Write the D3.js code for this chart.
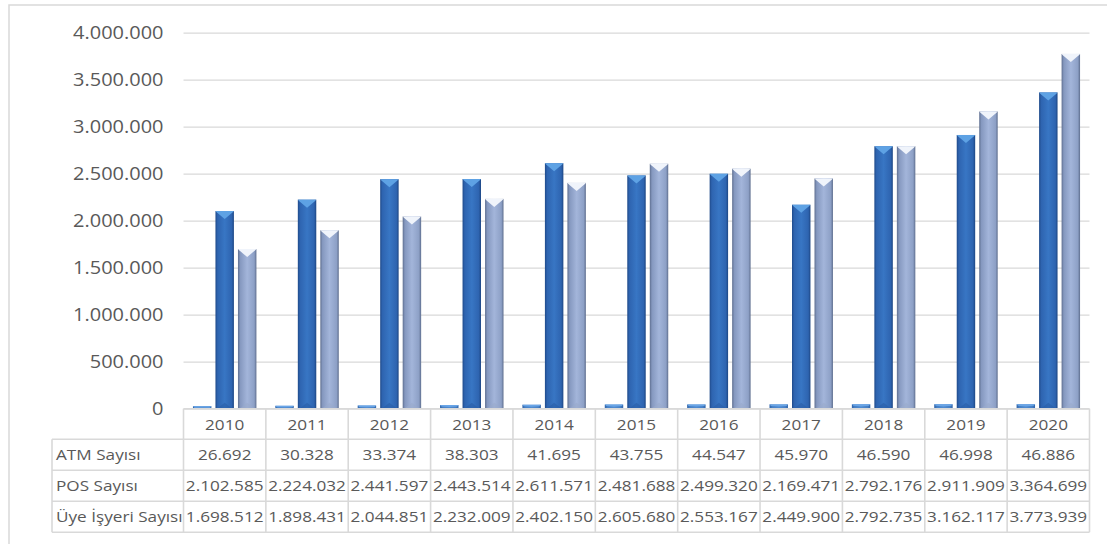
<!DOCTYPE html>
<html>
<head>
<meta charset="utf-8">
<script src="https://cdn.jsdelivr.net/npm/d3@7/dist/d3.min.js"></script>
<style>
  html, body { margin: 0; padding: 0; background: #fff; }
  svg { display: block; }
  text { font-family: "Open Sans", "Noto Sans", sans-serif; fill: #595959; }
</style>
</head>
<body>
<svg id="chart" width="1107" height="544"></svg>
<script>
// Yearly counts of ATMs, POS terminals and member merchants
const years = ["2010","2011","2012","2013","2014","2015","2016","2017","2018","2019","2020"];
const atmCounts = [26692, 30328, 33374, 38303, 41695, 43755, 44547, 45970, 46590, 46998, 46886];
const posCounts = [2102585, 2224032, 2441597, 2443514, 2611571, 2481688, 2499320, 2169471, 2792176, 2911909, 3364699];
const merchantCounts = [1698512, 1898431, 2044851, 2232009, 2402150, 2605680, 2553167, 2449900, 2792735, 3162117, 3773939];
const seriesNames = ["ATM Sayısı", "POS Sayısı", "Üye İşyeri Sayısı"];
const yTicks = [0, 500000, 1000000, 1500000, 2000000, 2500000, 3000000, 3500000, 4000000];

const series = [atmCounts, posCounts, merchantCounts];

const trLocale = d3.formatLocale({ decimal: ",", thousands: ".", grouping: [3], currency: ["", " ₺"] });
const fmt = trLocale.format(",d");

const svg = d3.select("#chart");
const W = 1107, H = 544;

const plot = { left: 183.5, right: 1089.5, top: 32.7, bottom: 408.7 };
const rowH = 31;
const headerBottom = plot.bottom + 30.5;
const labelLeft = 52;

// Outer frame (open at right and bottom)
svg.append("path")
  .attr("d", `M9,${H} L9,5 L${W},5`)
  .attr("fill", "none")
  .attr("stroke", "#d9d9d9")
  .attr("stroke-width", 1.5);

// Scales
const x = d3.scaleBand().domain(years).range([plot.left, plot.right]).paddingInner(0).paddingOuter(0);
const xs = d3.scaleBand().domain(d3.range(series.length)).range([0, x.bandwidth()])
  .paddingInner(0.18).paddingOuter(0.42);
const y = d3.scaleLinear().domain([0, 4000000]).range([plot.bottom, plot.top]);

// Gradients for bevelled bars
const defs = svg.append("defs");
function hGrad(id, stops) {
  const g = defs.append("linearGradient").attr("id", id).attr("x1", "0").attr("x2", "1").attr("y1", "0").attr("y2", "0");
  stops.forEach(([o, c]) => g.append("stop").attr("offset", o).attr("stop-color", c));
}
hGrad("gAtm", [[0, "#2f63a8"], [0.15, "#4680c6"], [0.5, "#4f8bd1"], [0.85, "#4680c6"], [1, "#2f63a8"]]);
hGrad("gPos", [[0, "#1f4a8a"], [0.12, "#2e64b0"], [0.5, "#3876c4"], [0.88, "#2e64b0"], [1, "#1d4683"]]);
hGrad("gMer", [[0, "#5f6f90"], [0.12, "#8598bf"], [0.5, "#a3b5da"], [0.88, "#8da0c6"], [1, "#5e6e8e"]]);
const fills = ["url(#gAtm)", "url(#gPos)", "url(#gMer)"];
const bevelTop = ["#6aa5e6", "#5ea2e4", "#f0f4fb"];
const bevelBottom = ["#3a6fb5", "#2a5ea6", "#9aaacb"];

// Y axis with gridlines
const yPad = 20;
const yAxis = d3.axisLeft(y).tickValues(yTicks).tickFormat(fmt)
  .tickSize(-(plot.right - plot.left)).tickPadding(yPad);
const gy = svg.append("g").attr("transform", `translate(${plot.left},0)`).call(yAxis);
gy.select(".domain").remove();
gy.selectAll(".tick line").attr("stroke", "#d9d9d9").attr("stroke-width", 1.3);
gy.selectAll(".tick text")
  .attr("x", 0)
  .attr("transform", `translate(${-yPad},0) scale(1.08,1)`)
  .attr("font-size", 18.5)
  .attr("fill", "#595959")
  .style("font-family", "'Open Sans', sans-serif");

// Bars
const barsG = svg.append("g");
series.forEach((vals, si) => {
  const g = barsG.append("g");
  vals.forEach((v, i) => {
    const x0 = x(years[i]) + xs(si);
    const w = xs.bandwidth();
    const yTop = y(v);
    const h = plot.bottom - yTop;
    g.append("rect")
      .attr("x", x0).attr("y", yTop).attr("width", w).attr("height", h)
      .attr("fill", fills[si]);
    const d = Math.min(8, h / 2);
    // top bevel: downward chevron
    g.append("path")
      .attr("d", `M${x0},${yTop} L${x0 + w},${yTop} L${x0 + w - 1.5},${yTop + 1.5} L${x0 + w / 2},${yTop + d} L${x0 + 1.5},${yTop + 1.5} Z`)
      .attr("fill", bevelTop[si]);
    // bottom bevel: faint upward chevron
    if (h > 20) {
      g.append("path")
        .attr("d", `M${x0 + 1.5},${plot.bottom} L${x0 + w / 2},${plot.bottom - 6} L${x0 + w - 1.5},${plot.bottom} Z`)
        .attr("fill", bevelBottom[si]).attr("opacity", 0.6);
    }
  });
});

// Data table below the plot
const tbl = svg.append("g");
const lineCol = "#d9d9d9";
const rowsTop = headerBottom;
const tableBottom = rowsTop + rowH * 3;

// horizontal lines
tbl.append("line").attr("x1", plot.left).attr("x2", plot.right).attr("y1", plot.bottom).attr("y2", plot.bottom);
[0, 1, 2, 3].forEach(r => {
  tbl.append("line").attr("x1", labelLeft).attr("x2", plot.right)
    .attr("y1", rowsTop + r * rowH).attr("y2", rowsTop + r * rowH);
});
// vertical lines
tbl.append("line").attr("x1", labelLeft).attr("x2", labelLeft).attr("y1", rowsTop).attr("y2", tableBottom);
years.concat(["end"]).forEach((yr, i) => {
  const xx = plot.left + i * x.step();
  tbl.append("line").attr("x1", xx).attr("x2", xx).attr("y1", plot.bottom).attr("y2", tableBottom);
});
tbl.selectAll("line").attr("stroke", lineCol).attr("stroke-width", 1.6);

const tFont = 15.2;
function cellText(str, cx, cy, anchor) {
  const t = tbl.append("text")
    .attr("transform", `translate(${cx},${cy}) scale(1.13,1)`)
    .attr("text-anchor", anchor || "middle")
    .attr("dominant-baseline", "central")
    .attr("font-size", tFont)
    .text(str);
  return t;
}
years.forEach(yr => cellText(yr, x(yr) + x.bandwidth() / 2, plot.bottom + 15.5));
series.forEach((vals, si) => {
  const cy = rowsTop + si * rowH + rowH / 2;
  cellText(seriesNames[si], labelLeft + 4, cy, "start");
  vals.forEach((v, i) => cellText(fmt(v), x(years[i]) + x.bandwidth() / 2, cy));
});
</script>
</body>
</html>
